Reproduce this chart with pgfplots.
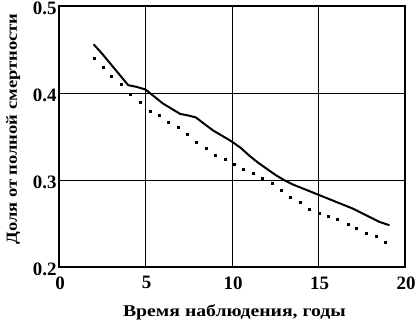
\documentclass[border=0pt]{standalone}
\usepackage{fontspec}
\setmainfont{Liberation Serif}
\newfontfamily\lblfont[FakeStretch=1.2]{Liberation Serif}
\usepackage{pgfplots}
\pgfplotsset{compat=1.18}
\begin{document}
\begin{tikzpicture}[x=1bp,y=1bp]
\useasboundingbox (0,0) rectangle (417,323);
\begin{axis}[
  at={(59bp,56bp)}, anchor=south west,
  scale only axis, width=346bp, height=261bp,
  xmin=0, xmax=20, ymin=0.2, ymax=0.5,
  xtick={0,5,10,15,20}, ytick={0.2,0.3,0.4,0.5},
  grid=major, major grid style={black, line width=0.9bp},
  axis line style={line width=1.5bp},
  tick style={draw=none},
  /pgf/number format/assume math mode=true,
  yticklabel style={/pgf/number format/fixed, /pgf/number format/fixed zerofill, /pgf/number format/precision=1},
  ticklabel style={font=\fontsize{19}{21}\selectfont\bfseries},
  xticklabel style={yshift=-6bp, xshift=1bp},
  yticklabel style={xshift=1bp, yshift=-2bp},
  xlabel={Время наблюдения, годы},
  ylabel={Доля от полной смертности},
  xlabel style={font=\lblfont\fontsize{16.5}{19}\selectfont\bfseries, at={(axis description cs:0.507,-0.172)}, anchor=center},
  ylabel style={font=\lblfont\fontsize{15.5}{18}\selectfont\bfseries, at={(axis description cs:-0.132,0.528)}, anchor=center},
]
\addplot[black, line width=2bp, mark=none] coordinates {
(2.0,0.456) (2.5,0.445) (3.0,0.433) (3.5,0.421) (4.0,0.409) (4.5,0.407)
(5.0,0.404) (5.5,0.396) (6.0,0.388) (6.5,0.382) (7.0,0.376) (7.5,0.374)
(7.9,0.372) (8.5,0.363) (8.9,0.357) (9.5,0.350) (10.0,0.344) (10.5,0.337)
(11.0,0.328) (11.5,0.320) (12.0,0.313) (12.5,0.306) (13.0,0.300) (13.5,0.295)
(14.0,0.291) (14.5,0.287) (15.0,0.283) (15.5,0.279) (16.0,0.275) (16.5,0.271)
(17.0,0.267) (17.5,0.262) (18.0,0.257) (18.5,0.252) (19.1,0.248)
};
\addplot[only marks, mark=square*, mark size=1bp, black] coordinates {
(2.04,0.440) (2.53,0.430) (3.03,0.419) (3.59,0.410) (4.13,0.399) (4.67,0.389)
(5.25,0.379) (5.77,0.374) (6.29,0.367) (6.87,0.361) (7.41,0.353) (7.95,0.344)
(8.48,0.336) (9.02,0.329) (9.60,0.324) (10.11,0.318) (10.66,0.312) (11.20,0.308)
(11.76,0.302) (12.30,0.296) (12.82,0.288) (13.36,0.280) (13.94,0.274) (14.46,0.267)
(15.04,0.262) (15.58,0.258) (16.10,0.255) (16.69,0.249) (17.20,0.245) (17.75,0.239)
(18.33,0.235) (18.85,0.229)
};
\end{axis}
\end{tikzpicture}
\end{document}
